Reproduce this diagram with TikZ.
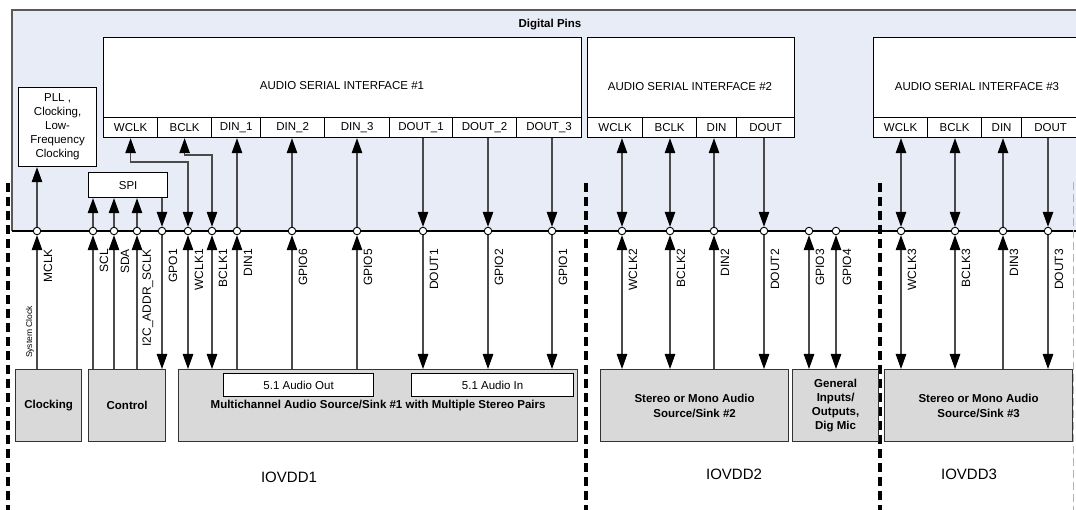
\documentclass[tikz,border=0pt]{standalone}
\usepackage{fontspec}
\setmainfont{Liberation Sans}
\usetikzlibrary{arrows.meta}
\definecolor{pinbg}{HTML}{E8ECF6}
\definecolor{blkfill}{HTML}{D9D9D9}
\definecolor{wirec}{HTML}{4A4A4A}
\newcommand{\fs}{\fontsize{11.5}{14}\selectfont}
\newcommand{\bfs}{\fontsize{11.5}{15}\selectfont\bfseries}
\begin{document}
\begin{tikzpicture}[x=1pt,y=-1pt,
  >={Triangle[length=15pt,width=10.5pt,color=black]},
  box/.style={draw=black, line width=1.2pt, fill=white, inner sep=0pt},
  asibox/.style={box, anchor=north west, minimum height=100pt},
  cellbox/.style={box, anchor=north west, minimum height=20pt, font=\fs},
  blkbox/.style={draw=black!80, line width=1.2pt, fill=blkfill, anchor=north west,
    minimum height=72pt, inner sep=0pt, font=\bfs, align=center},
  wbox/.style={box, anchor=north west, minimum height=23pt, font=\fs},
  pin/.style={circle, draw=black, fill=white, line width=0.9pt, minimum size=7.5pt, inner sep=0pt},
  wire/.style={draw=wirec, line width=1.1pt},
  plabel/.style={rotate=90, anchor=east, font=\fontsize{12}{14}\selectfont, inner sep=0pt},
  divider/.style={line width=3.2pt, dash pattern=on 9pt off 5pt},
  txt/.style={font=\fs, inner sep=0pt}
]
\useasboundingbox (0,0) rectangle (1076,510);
\clip (0,0) rectangle (1076,510);
\fill[white] (0,0) rectangle (1076,510);

% Digital pins area
\fill[pinbg] (12,10) rectangle (1090,231);
\draw[black!65, line width=1.1pt] (12,231) -- (12,10) -- (1090,10);
\draw[black, line width=1.1pt] (12,231) -- (1090,231);
\node[font=\bfs, inner sep=0pt] (dptitle) at (550,25) {Digital Pins};

% domain dividers
\draw[divider] (8,183) -- (8,512);
\draw[divider] (586,183) -- (586,512);
\draw[divider] (880,183) -- (880,512);
\draw[black!30, line width=1pt, dash pattern=on 8pt off 4pt] (1073,182) -- (1073,512);

% ASI #1
\node[asibox, minimum width=478pt] (asi1) at (103,37) {};
\node[txt] (asi1t) at (342,86) {AUDIO SERIAL INTERFACE \#1};
\node[cellbox, minimum width=54pt] (a1wclk) at (103,117) {WCLK};
\node[cellbox, minimum width=54pt] (a1bclk) at (157,117) {BCLK};
\node[cellbox, minimum width=49pt] (a1din1) at (211,117) {DIN\_1};
\node[cellbox, minimum width=64pt] (a1din2) at (260,117) {DIN\_2};
\node[cellbox, minimum width=65pt] (a1din3) at (324,117) {DIN\_3};
\node[cellbox, minimum width=63pt] (a1dout1) at (389,117) {DOUT\_1};
\node[cellbox, minimum width=64pt] (a1dout2) at (452,117) {DOUT\_2};
\node[cellbox, minimum width=65pt] (a1dout3) at (516,117) {DOUT\_3};

% ASI #2
\node[asibox, minimum width=207pt] (asi2) at (587,37) {};
\node[txt] (asi2t) at (690,87) {AUDIO SERIAL INTERFACE \#2};
\node[cellbox, minimum width=55pt] (a2wclk) at (587,117) {WCLK};
\node[cellbox, minimum width=54pt] (a2bclk) at (642,117) {BCLK};
\node[cellbox, minimum width=40pt] (a2din) at (696,117) {DIN};
\node[cellbox, minimum width=58pt] (a2dout) at (736,117) {DOUT};

% ASI #3
\node[asibox, minimum width=206pt] (asi3) at (873,37) {};
\node[txt] (asi3t) at (977,87) {AUDIO SERIAL INTERFACE \#3};
\node[cellbox, minimum width=54pt] (a3wclk) at (873,117) {WCLK};
\node[cellbox, minimum width=54pt] (a3bclk) at (927,117) {BCLK};
\node[cellbox, minimum width=40pt] (a3din) at (981,117) {DIN};
\node[cellbox, minimum width=58pt] (a3dout) at (1021,117) {DOUT};

% PLL and SPI
\node[box, anchor=north west, minimum width=78pt, minimum height=79pt, font=\fs,
  align=center] (pll) at (18,87) {PLL ,\\Clocking,\\Low-\\Frequency\\Clocking};
\node[box, anchor=north west, minimum width=79pt, minimum height=25pt, font=\fs] (spi) at (88,172) {SPI};

% bottom blocks
\node[blkbox, minimum width=66pt] (clk) at (15,369) {Clocking};
\node[blkbox, minimum width=77pt] (ctl) at (88,369) {Control};
\node[blkbox, minimum width=399pt] (mc) at (178,369) {Multichannel Audio Source/Sink \#1 with Multiple Stereo Pairs};
\node[wbox, minimum width=150pt] (aout) at (223,373) {5.1 Audio Out};
\node[wbox, minimum width=162pt] (ain) at (411,373) {5.1 Audio In};
\node[blkbox, minimum width=188pt] (s2) at (600,369) {Stereo or Mono Audio\\Source/Sink \#2};
\node[blkbox, minimum width=86pt, font=\fontsize{11.5}{14}\selectfont\bfseries] (gio) at (792,369) {General\\Inputs/\\Outputs,\\Dig Mic};
\node[blkbox, minimum width=188pt] (s3) at (884,369) {Stereo or Mono Audio\\Source/Sink \#3};

% pins
\foreach \n/\x in {MCLK/37, SCL/93, SDA/114, I2C/137, GPO1/162, WCLK1/188, BCLK1/212,
  DIN1/237, GPIO6/292, GPIO5/357, DOUT1/423, GPIO2/488, GPIO1/552, WCLK2/622,
  BCLK2/670, DIN2/714, DOUT2/764, GPIO3/809, GPIO4/836, WCLK3/901, BCLK3/955,
  DIN3/1003, DOUT3/1048}
  \node[pin] (p\n) at (\x,231) {};

% upper connectors
\draw[wire,->] (pMCLK) -- (pMCLK |- pll.south);
\draw[wire,->] (pSCL) -- (pSCL |- spi.south);
\draw[wire,->] (pSDA) -- (pSDA |- spi.south);
\draw[wire,->] (pI2C) -- (pI2C |- spi.south);
\draw[wire,->] (pGPO1 |- spi.south) -- (pGPO1);
\coordinate (jw) at (188,162);
\coordinate (jb) at (212,155);
\draw[wire,<->] (a1wclk.south) |- (jw) -- (pWCLK1);
\draw[wire,<->] (a1bclk.south) |- (jb) -- (pBCLK1);
\draw[wire,->] (pDIN1) -- (pDIN1 |- a1din1.south);
\draw[wire,->] (pGPIO6) -- (pGPIO6 |- a1din2.south);
\draw[wire,->] (pGPIO5) -- (pGPIO5 |- a1din3.south);
\draw[wire,->] (pDOUT1 |- a1dout1.south) -- (pDOUT1);
\draw[wire,->] (pGPIO2 |- a1dout2.south) -- (pGPIO2);
\draw[wire,->] (pGPIO1 |- a1dout3.south) -- (pGPIO1);
\draw[wire,<->] (pWCLK2 |- a2wclk.south) -- (pWCLK2);
\draw[wire,<->] (pBCLK2 |- a2bclk.south) -- (pBCLK2);
\draw[wire,->] (pDIN2) -- (pDIN2 |- a2din.south);
\draw[wire,->] (pDOUT2 |- a2dout.south) -- (pDOUT2);
\draw[wire,<->] (pWCLK3 |- a3wclk.south) -- (pWCLK3);
\draw[wire,<->] (pBCLK3 |- a3bclk.south) -- (pBCLK3);
\draw[wire,->] (pDIN3) -- (pDIN3 |- a3din.south);
\draw[wire,->] (pDOUT3 |- a3dout.south) -- (pDOUT3);

% lower connectors
\draw[wire,->] (pMCLK |- clk.north) -- (pMCLK);
\draw[wire,->] (pSCL |- ctl.north) -- (pSCL);
\draw[wire,->] (pSDA |- ctl.north) -- (pSDA);
\draw[wire,->] (pI2C |- ctl.north) -- (pI2C);
\draw[wire,->] (pGPO1) -- (pGPO1 |- ctl.north);
\draw[wire,<->] (pWCLK1) -- (pWCLK1 |- mc.north);
\draw[wire,<->] (pBCLK1) -- (pBCLK1 |- mc.north);
\draw[wire,->] (pDIN1 |- mc.north) -- (pDIN1);
\draw[wire,->] (pGPIO6 |- mc.north) -- (pGPIO6);
\draw[wire,->] (pGPIO5 |- mc.north) -- (pGPIO5);
\draw[wire,->] (pDOUT1) -- (pDOUT1 |- mc.north);
\draw[wire,->] (pGPIO2) -- (pGPIO2 |- mc.north);
\draw[wire,->] (pGPIO1) -- (pGPIO1 |- mc.north);
\draw[wire,<->] (pWCLK2) -- (pWCLK2 |- s2.north);
\draw[wire,<->] (pBCLK2) -- (pBCLK2 |- s2.north);
\draw[wire,->] (pDIN2 |- s2.north) -- (pDIN2);
\draw[wire,->] (pDOUT2) -- (pDOUT2 |- s2.north);
\draw[wire,<->] (pGPIO3) -- (pGPIO3 |- gio.north);
\draw[wire,<->] (pGPIO4) -- (pGPIO4 |- gio.north);
\draw[wire,<->] (pWCLK3) -- (pWCLK3 |- s3.north);
\draw[wire,<->] (pBCLK3) -- (pBCLK3 |- s3.north);
\draw[wire,->] (pDIN3 |- s3.north) -- (pDIN3);
\draw[wire,->] (pDOUT3) -- (pDOUT3 |- s3.north);

% pin labels
\foreach \n/\t in {MCLK/MCLK, SCL/SCL, SDA/SDA, I2C/I2C\_ADDR\_SCLK, GPO1/GPO1,
  WCLK1/WCLK1, BCLK1/BCLK1, DIN1/DIN1, GPIO6/GPIO6, GPIO5/GPIO5, DOUT1/DOUT1,
  GPIO2/GPIO2, GPIO1/GPIO1, WCLK2/WCLK2, BCLK2/BCLK2, DIN2/DIN2, DOUT2/DOUT2,
  GPIO3/GPIO3, GPIO4/GPIO4, WCLK3/WCLK3, BCLK3/BCLK3, DIN3/DIN3, DOUT3/DOUT3}
  \node[plabel] (l\n) at ([xshift=11pt,yshift=-18pt]p\n.center) {\t};
\node[rotate=90, font=\fontsize{8.5}{10}\selectfont, inner sep=0pt] (sysclk) at (30,332) {System Clock};

% domain labels
\node[font=\fontsize{15}{18}\selectfont, inner sep=0pt] (io1) at (289,477) {IOVDD1};
\node[font=\fontsize{15}{18}\selectfont, inner sep=0pt] (io2) at (734,474) {IOVDD2};
\node[font=\fontsize{15}{18}\selectfont, inner sep=0pt] (io3) at (969,474) {IOVDD3};
\end{tikzpicture}
\end{document}
